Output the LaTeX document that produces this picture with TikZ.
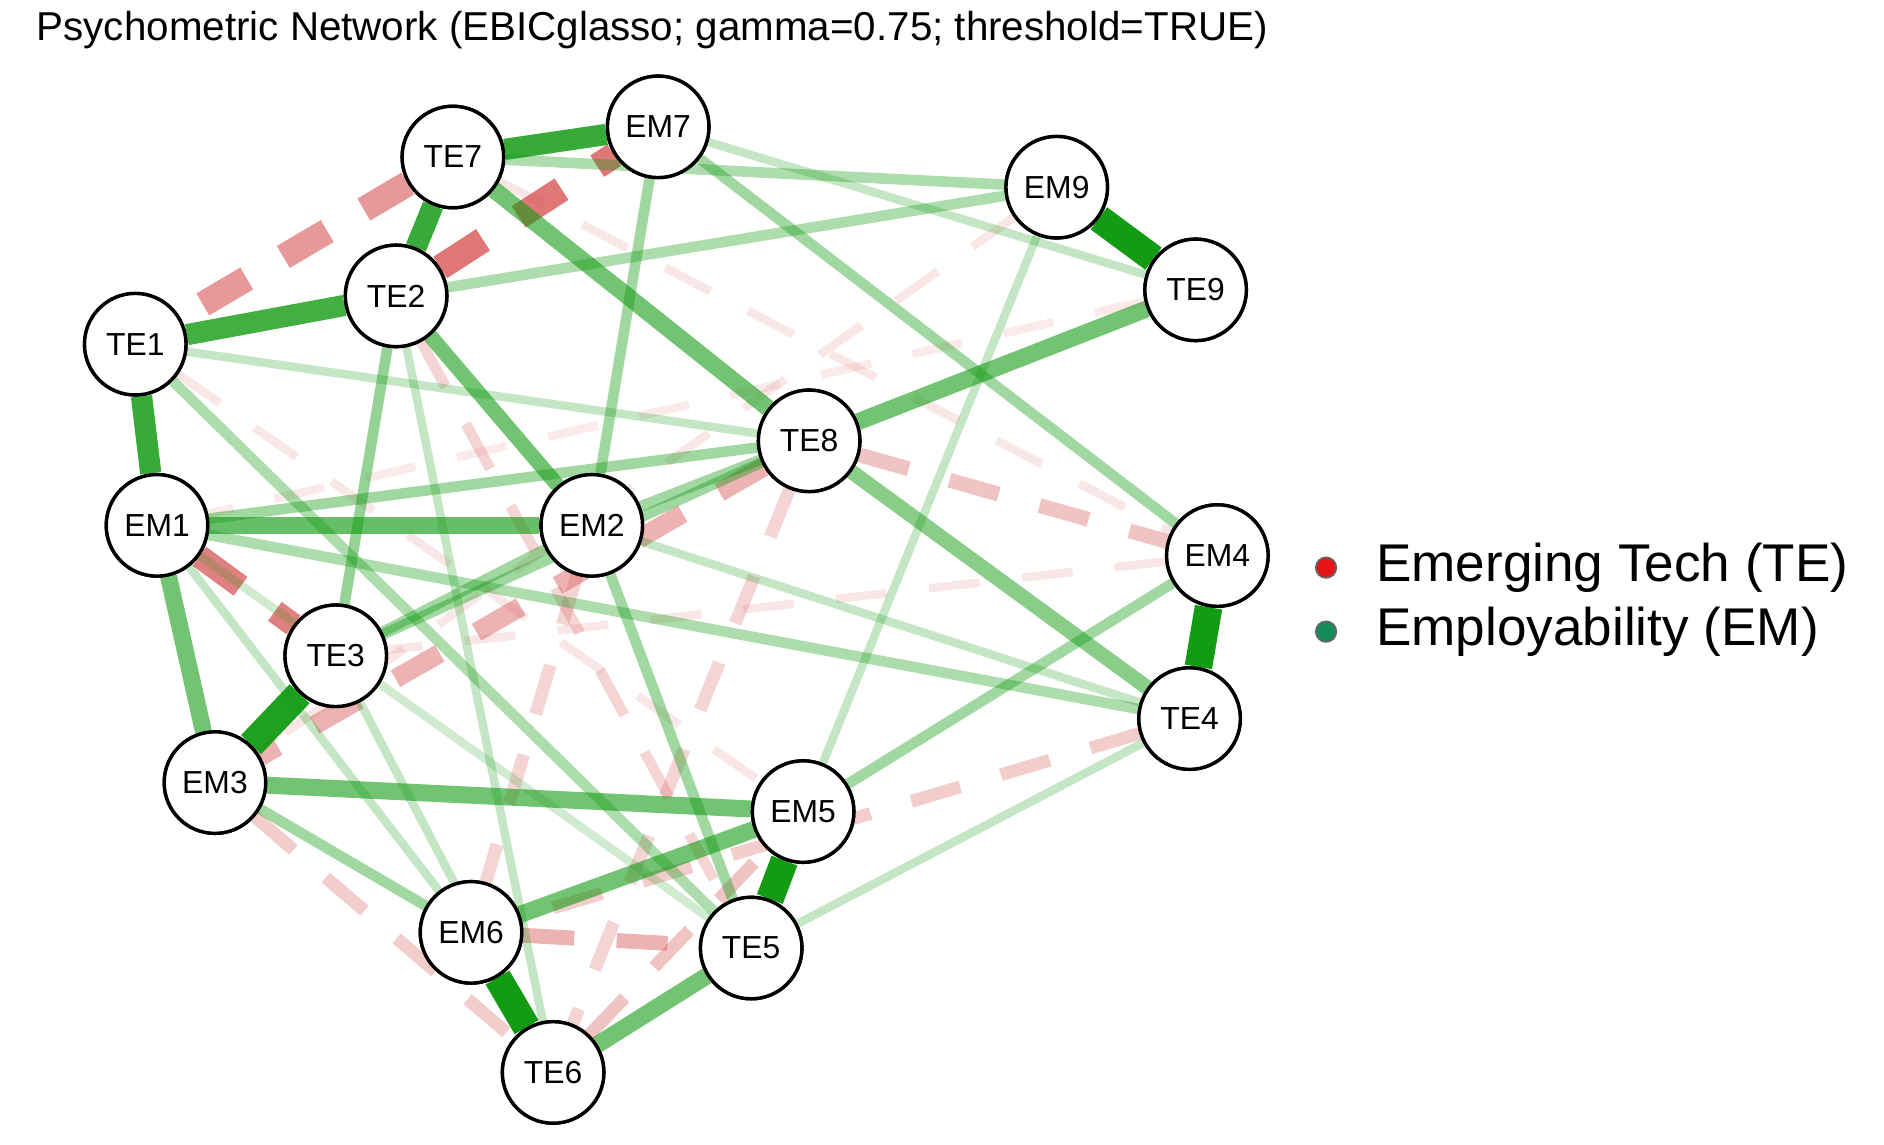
\documentclass[tikz,border=0pt]{standalone}
\usepackage{fontspec}
\setmainfont{Liberation Sans}
\definecolor{posgreen}{RGB}{20,155,20}
\definecolor{negred}{RGB}{215,85,85}
\definecolor{legred}{RGB}{230,20,20}
\definecolor{leggreen}{RGB}{20,140,90}
\tikzset{
  item/.style={circle,draw,thick,fill=white,minimum size=0.84cm,inner sep=0pt,font=\fontsize{7.5}{8}\selectfont},
  posedge/.style={draw=posgreen},
  negedge/.style={draw=negred,dash pattern=on 12pt off 10pt}
}
\begin{document}
\begin{tikzpicture}[x=0.01cm,y=-0.01cm]
\useasboundingbox (0,0) rectangle (1560,948);
% title
\node[anchor=west,font=\fontsize{9.5}{11}\selectfont] (title) at (18,25) {Psychometric Network (EBICglasso; gamma=0.75; threshold=TRUE)};
% nodes
\node[item] (TE7) at (375,130) {TE7};
\node[item] (EM7) at (545,105) {EM7};
\node[item] (EM9) at (875,155) {EM9};
\node[item] (TE9) at (990,240) {TE9};
\node[item] (TE2) at (328,245) {TE2};
\node[item] (TE1) at (112,285) {TE1};
\node[item] (TE8) at (670,365) {TE8};
\node[item] (EM1) at (130,435) {EM1};
\node[item] (EM2) at (490,435) {EM2};
\node[item] (EM4) at (1008,460) {EM4};
\node[item] (TE3) at (278,543) {TE3};
\node[item] (TE4) at (985,595) {TE4};
\node[item] (EM3) at (178,648) {EM3};
\node[item] (EM5) at (665,672) {EM5};
\node[item] (EM6) at (390,772) {EM6};
\node[item] (TE5) at (622,785) {TE5};
\node[item] (TE6) at (458,888) {TE6};
% negative edges
\foreach \a/\b/\w/\o in {TE8/TE6/3/.25, EM2/EM6/3/.25, TE2/TE5/2.5/.25, TE8/EM4/3.5/.35,
    TE4/EM6/3/.3, EM6/TE5/3.5/.45, TE6/EM5/3/.35, EM3/TE6/3/.3, TE1/EM5/2/.15,
    EM9/EM3/2/.15, TE7/EM4/2/.15, TE9/EM1/2/.12, EM4/TE3/2/.15,
    TE8/EM3/4.5/.45, EM1/TE3/5.5/.75, TE2/EM7/6/.8, TE7/TE1/6/.6}
  \draw[negedge,line width=\w pt,draw opacity=\o] (\a) -- (\b);
% positive edges
\foreach \a/\b/\w/\o in {EM7/TE9/2/.25, TE4/TE5/2/.25, EM5/EM9/2/.25, TE1/TE8/2/.25,
    TE3/TE6/2/.25, EM2/TE4/2/.25, TE2/TE6/2/.25, EM1/EM6/2/.25, EM1/TE5/2/.2,
    EM7/EM4/2.5/.4, EM2/TE8/2.5/.4, EM1/TE8/2.5/.4, EM4/EM5/2.5/.4, TE3/TE8/2.5/.4,
    TE2/TE3/2.5/.45, TE7/EM9/2.5/.35, TE2/EM9/2.5/.35, EM7/EM2/2.5/.4, TE1/TE5/2.5/.35,
    EM1/TE4/2.5/.35, EM3/EM6/2.5/.4, EM2/TE5/2.5/.4, TE3/EM2/2.5/.4,
    EM1/EM2/4/.65, TE7/TE8/4/.6, TE9/TE8/4/.6, EM1/EM3/4/.6, TE5/TE6/4/.6,
    EM6/EM5/4/.6, EM3/EM5/4/.6, TE2/EM2/3.5/.6, TE8/TE4/3.5/.5,
    TE7/EM7/5/.85, TE1/EM1/5/.85, TE7/TE2/5/.85, TE1/TE2/5/.8,
    EM9/TE9/6.5/1, EM4/TE4/6.5/1, TE6/EM6/6.5/1, TE5/EM5/6.5/1, TE3/EM3/6.5/.95}
  \draw[posedge,line width=\w pt,draw opacity=\o] (\a) -- (\b);
% redraw nodes on top
\foreach \n in {TE7,EM7,EM9,TE9,TE2,TE1,TE8,EM1,EM2,EM4,TE3,TE4,EM3,EM5,EM6,TE5,TE6}
  \node[item] at (\n) {\n};
% legend
\node[circle,draw=black!60,fill=legred,minimum size=0.17cm,inner sep=0pt] (dotTE) at (1098,470) {};
\node[anchor=west,font=\fontsize{12.5}{14}\selectfont] (legTE) at ([xshift=0.2cm]dotTE.east) {Emerging Tech (TE)};
\node[circle,draw=black!60,fill=leggreen,minimum size=0.17cm,inner sep=0pt] (dotEM) at (1098,523) {};
\node[anchor=west,font=\fontsize{12.5}{14}\selectfont] (legEM) at ([xshift=0.2cm]dotEM.east) {Employability (EM)};
\end{tikzpicture}
\end{document}
